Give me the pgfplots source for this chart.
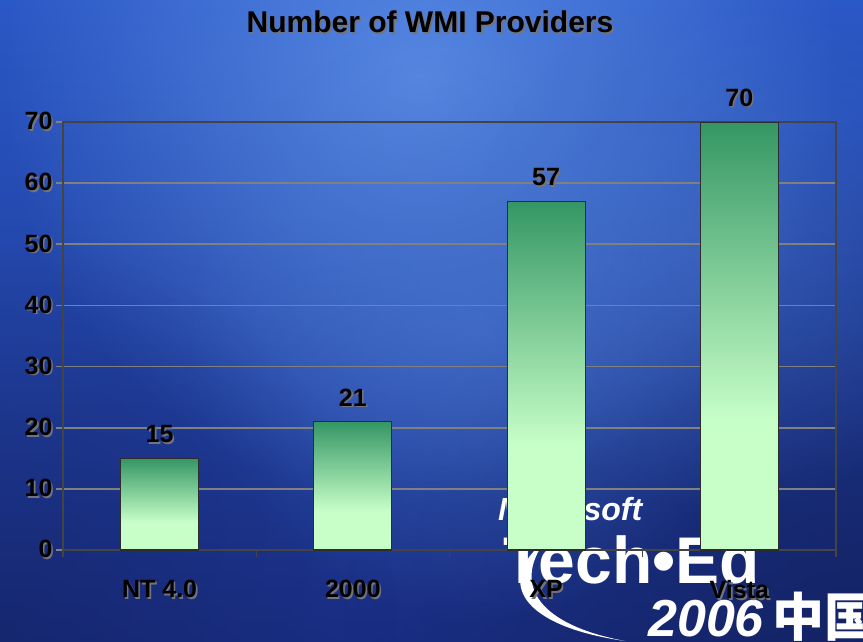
\documentclass[border=0pt]{standalone}
\usepackage{fontspec}
\setmainfont{Liberation Sans}
\newfontfamily\cjk{Noto Sans CJK SC}
\usepackage{pgfplots}
\pgfplotsset{compat=1.18}
\usetikzlibrary{fadings}
\definecolor{darkg}{RGB}{52,150,100}
\definecolor{lightg}{RGB}{200,255,200}
\definecolor{bgtop}{RGB}{42,88,198}
\definecolor{bgbot}{RGB}{26,46,132}
\definecolor{navy}{RGB}{18,32,92}
\definecolor{lightbl}{RGB}{95,145,232}
\definecolor{midbl}{RGB}{70,115,205}
\definecolor{shadowc}{RGB}{115,115,125}
\definecolor{gridc}{RGB}{128,128,128}
\definecolor{framec}{RGB}{68,68,68}
\definecolor{edgec}{RGB}{45,45,45}
\pgfdeclareverticalshading{bargrad}{100bp}{color(0bp)=(lightg); color(25bp)=(lightg); color(40bp)=(lightg); color(75bp)=(darkg); color(100bp)=(darkg)}
\tikzfading[name=fadeout, inner color=transparent!0, outer color=transparent!100]
\newcommand\sh[1]{\makebox[0pt][l]{\kern1.6pt\raisebox{-1.6pt}{\textcolor{shadowc}{#1}}}#1}
\pgfplotsset{mybar/.style={draw=edgec, shading=bargrad, shade, line width=1.2pt}}
\begin{document}
\begin{tikzpicture}[x=1pt,y=1pt]
\begin{scope}
\clip (0,0) rectangle (863,641);
\shade[top color=bgtop, bottom color=bgbot] (0,0) rectangle (863,641);
\fill[navy, path fading=fadeout, opacity=0.8] (863,0) circle (520);
\fill[lightbl, path fading=fadeout, opacity=0.85] (420,560) circle (420);
\fill[midbl, path fading=fadeout, opacity=0.6] (480,320) circle (300);
\fill[midbl, path fading=fadeout, opacity=0.5] (730,390) circle (260);
\fill[navy, path fading=fadeout, opacity=0.5] (0,0) circle (400);
% logo
\fill[white] (545,100) .. controls (495,60) and (520,15) .. (625,0) .. controls (540,16) and (512,55) .. (545,100);
\node[anchor=base west, text=white, inner sep=0, font=\fontsize{32}{34}\selectfont\bfseries\itshape] at (498,121) {Microsoft};
\node[anchor=base west, text=white, inner sep=0, font=\fontsize{66}{70}\selectfont\bfseries] at (503,58) {Tech•Ed};
\node[anchor=base west, text=white, inner sep=0, font=\fontsize{52}{56}\selectfont\bfseries\itshape] at (648,5) {2006\,{\cjk\upshape 中国}};
\end{scope}
\node[font=\fontsize{30}{32}\selectfont\bfseries] at (430,618) {\sh{Number of WMI Providers}};
\begin{axis}[
  at={(63pt,91pt)}, anchor=south west, scale only axis,
  width=773pt, height=428pt,
  xmin=-0.5, xmax=3.5, ymin=0, ymax=70,
  ytick={0,10,20,30,40,50,60,70},
  yticklabels={\sh{0},\sh{10},\sh{20},\sh{30},\sh{40},\sh{50},\sh{60},\sh{70}},
  xtick={0,1,2,3},
  xticklabels={\sh{NT 4.0},\sh{2000},\sh{XP},\sh{Vista}},
  minor xtick={-0.5,0.5,1.5,2.5,3.5},
  major x tick style={draw=none},
  minor x tick style={draw=framec, line width=1.2pt},
  ytick style={draw=gridc, line width=1.6pt},
  tick align=outside, tick pos=left,
  major tick length=7pt, minor tick length=7pt,
  ymajorgrids, grid style={draw=gridc, line width=1.8pt},
  axis line style={draw=framec, line width=2.2pt},
  ticklabel style={font=\fontsize{25}{28}\selectfont\bfseries},
  xticklabel style={yshift=-20pt},
  ybar, bar width=78pt, bar shift=0pt,
  nodes near coords={\sh{\pgfmathprintnumber[assume math mode=true]{\pgfplotspointmeta}}},
  nodes near coords style={text=black, font=\fontsize{25}{28}\selectfont\bfseries, yshift=10pt},
]
\addplot[mybar] coordinates {(0,15)};
\addplot[mybar] coordinates {(1,21)};
\addplot[mybar] coordinates {(2,57)};
\addplot[mybar] coordinates {(3,70)};
\end{axis}
\pgfresetboundingbox
\useasboundingbox (0,0) rectangle (863,641);
\end{tikzpicture}
\end{document}
